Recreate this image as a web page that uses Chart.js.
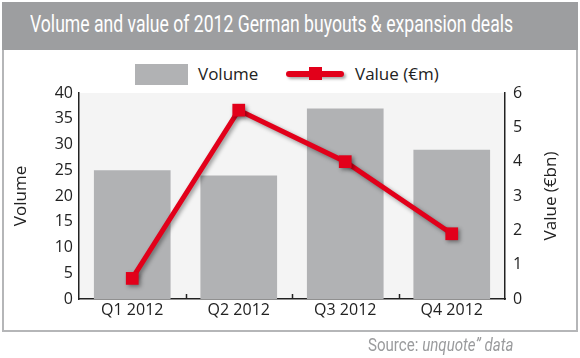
<!DOCTYPE html>
<html>
<head>
<meta charset="utf-8">
<script src="https://cdn.jsdelivr.net/npm/chart.js@4"></script>
<style>
  html, body { margin:0; padding:0; background:#fff; }
  #wrap { position:relative; width:580px; height:358px; overflow:hidden; font-family:"Open Sans", sans-serif; }
  #frame { position:absolute; left:2px; top:2px; width:572px; height:328px; border:2px solid #b5b6b8; border-top:none; }
  #titlebar { position:absolute; left:2px; top:2px; width:576px; height:48px; background:#9d9ea0; }
  #title { position:absolute; left:30px; top:11px; color:#fff; font-family:"Roboto", sans-serif; font-size:23px; white-space:nowrap; transform-origin:0 0; }
  #chart { position:absolute; left:0; top:0; width:580px; height:358px; }
  .leg { position:absolute; }
  #legBox { left:135px; top:64px; width:53px; height:21px; background:#b1b2b4; }
  #legVol { left:198px; top:62px; font-size:17px; color:#222; }
  #legLine { left:286px; top:71px; width:58px; height:6px; background:#e2001a; border-radius:3px; box-shadow:2px 2px 3px rgba(0,0,0,0.35); }
  #legMark { left:309px; top:67px; width:13px; height:13px; background:#e2001a; }
  #legVal { left:355px; top:62px; font-size:17px; color:#222; }
  #source { position:absolute; right:66px; top:334px; color:#9a9b9d; font-family:"Roboto", sans-serif; font-size:18px; white-space:nowrap; transform-origin:100% 0; }
</style>
</head>
<body>
<div id="wrap">
  <div id="frame"></div>
  <div id="titlebar"></div>
  <div id="title">Volume and value of 2012 German buyouts &amp; expansion deals</div>
  <div class="leg" id="legBox"></div>
  <div class="leg" id="legVol">Volume</div>
  <div class="leg" id="legLine"></div>
  <div class="leg" id="legMark"></div>
  <div class="leg" id="legVal">Value (€m)</div>
  <canvas id="chart" width="580" height="358"></canvas>
  <div id="source">Source: <i>unquote” data</i></div>
</div>
<script>
const categories = ["Q1 2012", "Q2 2012", "Q3 2012", "Q4 2012"];
const volumeValues = [25, 24, 37, 29];
const valueValues = [0.6, 5.5, 4.0, 1.9];
const leftTicks = [0, 5, 10, 15, 20, 25, 30, 35, 40];
const rightTicks = [0, 1, 2, 3, 4, 5, 6];

// fit title / source widths to the condensed look
(function(){
  const t = document.getElementById('title');
  t.style.transform = 'scaleX(' + (483 / t.offsetWidth) + ')';
  const s = document.getElementById('source');
  s.style.transform = 'scaleX(' + (146 / s.offsetWidth) + ')';
})();

const areaBg = {
  id: 'areaBg',
  beforeDraw(chart) {
    const {ctx, chartArea:a} = chart;
    ctx.save();
    ctx.fillStyle = '#f4f4f4';
    ctx.fillRect(a.left, a.top, a.right - a.left, a.bottom - a.top);
    ctx.restore();
  },
  afterDraw(chart) {
    const {ctx, chartArea:a} = chart;
    const x = chart.scales.x;
    ctx.save();
    ctx.strokeStyle = '#222';
    ctx.lineWidth = 1.5;
    for (let i = 1; i < categories.length; i++) {
      const px = Math.round((x.getPixelForValue(i - 1) + x.getPixelForValue(i)) / 2) + 0.5;
      ctx.beginPath();
      ctx.moveTo(px, a.bottom);
      ctx.lineTo(px, a.bottom - 5);
      ctx.stroke();
    }
    // right axis title, reading bottom-to-top
    ctx.fillStyle = '#222';
    ctx.font = '17px "Open Sans"';
    ctx.textAlign = 'center';
    ctx.textBaseline = 'middle';
    ctx.translate(551, (a.top + a.bottom) / 2);
    ctx.rotate(-Math.PI / 2);
    ctx.fillText('Value (€bn)', 0, 0);
    ctx.restore();
  }
};

const lineShadow = {
  id: 'lineShadow',
  beforeDatasetDraw(chart, args) {
    if (args.meta.type === 'line') {
      const ctx = chart.ctx;
      ctx.save();
      ctx.shadowColor = 'rgba(0,0,0,0.4)';
      ctx.shadowBlur = 4;
      ctx.shadowOffsetX = 2;
      ctx.shadowOffsetY = 2;
    }
  },
  afterDatasetDraw(chart, args) {
    if (args.meta.type === 'line') chart.ctx.restore();
  }
};

new Chart(document.getElementById('chart'), {
  data: {
    labels: categories,
    datasets: [
      {
        type: 'line', label: 'Value (€m)', data: valueValues, yAxisID: 'y2', order: 0,
        borderColor: '#e2001a', backgroundColor: '#e2001a', borderWidth: 5,
        pointStyle: 'rect', pointRadius: 9, pointHoverRadius: 9, pointBorderWidth: 0,
        tension: 0
      },
      {
        type: 'bar', label: 'Volume', data: volumeValues, yAxisID: 'y', order: 1,
        backgroundColor: '#b1b2b4', categoryPercentage: 1, barPercentage: 0.72
      }
    ]
  },
  options: {
    responsive: false,
    animation: false,
    events: [],
    layout: { padding: { top: 93, left: 0, right: 0, bottom: 0 } },
    plugins: { legend: { display: false }, tooltip: { enabled: false } },
    scales: {
      x: {
        offset: true,
        grid: { display: false, drawTicks: false },
        border: { display: true, color: '#222', width: 1.5 },
        ticks: { color: '#222', font: { family: 'Open Sans', size: 16 }, padding: 2, maxRotation: 0 },
        afterFit(s) { s.height = 59; }
      },
      y: {
        position: 'left', min: 0, max: 40,
        afterBuildTicks(s) { s.ticks = leftTicks.map(v => ({ value: v })); },
        grid: { display: false, drawTicks: false },
        border: { display: true, color: '#222', width: 1.5 },
        ticks: { color: '#222', font: { family: 'Open Sans', size: 16 }, padding: 6 },
        title: { display: true, text: 'Volume', color: '#222', font: { family: 'Open Sans', size: 17 }, padding: { top: 11, bottom: 0 } },
        afterFit(s) { s.width = 79; }
      },
      y2: {
        position: 'right', min: 0, max: 6,
        afterBuildTicks(s) { s.ticks = rightTicks.map(v => ({ value: v })); },
        grid: { display: false, drawTicks: false },
        border: { display: true, color: '#222', width: 1.5 },
        ticks: { color: '#222', font: { family: 'Open Sans', size: 16 }, padding: 8 },
        afterFit(s) { s.width = 75; }
      }
    }
  },
  plugins: [areaBg, lineShadow]
});
</script>
</body>
</html>
